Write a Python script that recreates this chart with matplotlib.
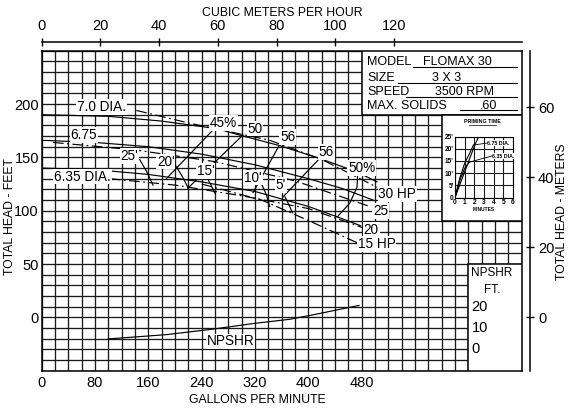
import numpy as np
import matplotlib.pyplot as plt
from matplotlib.patches import Rectangle

plt.rcParams['font.family'] = ['Liberation Sans', 'DejaVu Sans']

# head-capacity curves, gallons per minute vs feet
dia_names = ["7.0 DIA.", "6.75", "6.35 DIA."]
dia_gpm = [
    [0, 100, 180, 262, 302, 357, 417, 474, 503],
    [0, 80, 160, 240, 320, 400, 450, 497],
    [0, 80, 160, 240, 320, 400, 440, 478],
]
dia_head = [
    [190, 188.5, 184, 177, 170, 161, 149, 136, 127],
    [166, 164, 160, 153, 143, 130, 121, 110],
    [140, 138.5, 134, 127, 118, 104, 95, 86],
]

# horsepower lines (dash-dot)
hp_names = ["30 HP", "25", "20", "15 HP"]
hp_gpm = [
    [142, 222, 342, 420, 503],
    [17, 140, 260, 380, 492],
    [102, 200, 300, 400, 482],
    [240, 330, 403, 473],
]
hp_head = [
    [194, 182, 166, 148, 122],
    [164, 157, 146, 128, 104],
    [130, 124, 114, 102, 84],
    [125, 110, 90, 70],
]

# efficiency lines
eff_names = ["45%", "50", "56", "56", "50%"]
eff_gpm = [
    [187, 262],
    [219, 302],
    [317, 357],
    [362, 417],
    [474, 473, 462, 443],
]
eff_head = [
    [130, 179],
    [121, 171],
    [117, 162],
    [113, 149],
    [136, 122, 107, 94],
]

# suction lift lines
lift_names = ["25'", "20'", "15'", "10'", "5'"]
lift_gpm = [
    [147, 158, 167],
    [200, 211, 220],
    [248, 254, 260],
    [327, 337, 342],
    [365, 372, 376],
]
lift_head = [
    [148, 136, 124],
    [143, 132, 121],
    [131, 124, 116],
    [129, 115, 104],
    [113, 104, 98],
]

# NPSHR curve (ft of NPSHR)
npshr_gpm = [100, 187, 257, 317, 372, 407, 476]
npshr_ft = [4.9, 6.9, 9.5, 12.1, 14.1, 16.2, 20.6]

# priming time inset, minutes vs lift ft
prime_names = ["", "6.75 DIA.", "6.35 DIA."]
prime_min = [
    [0, 1, 2, 2.45],
    [0, 0.5, 1, 1.5, 1.9],
    [0, 0.5, 1, 1.5],
]
prime_lift = [
    [0, 10.5, 21, 25],
    [0, 8, 14, 18, 21.5],
    [0, 7, 12, 14.5],
]

bottom_ticks = [0, 80, 160, 240, 320, 400, 480]
left_ticks = [0, 50, 100, 150, 200]
top_ticks = [0, 20, 40, 60, 80, 100, 120]
right_ticks = [0, 20, 40, 60]

GPM_PER_M3H = 4.403
FT_PER_M = 3.281


def main():
    W, H = 571, 413
    fig = plt.figure(figsize=(W / 100, H / 100), dpi=100)
    ax = fig.add_axes([41.7 / W, 42.3 / H, 480 / W, 320 / H])
    ax.set_xlim(0, 720)
    ax.set_ylim(-50, 250)

    ax.set_xticks(bottom_ticks)
    ax.set_xticks(np.arange(0, 721, 20), minor=True)
    ax.set_yticks(left_ticks)
    ax.set_yticks(np.arange(-50, 251, 10), minor=True)
    ax.tick_params(which='both', length=0)
    ax.tick_params(axis='x', pad=4, labelsize=10.5)
    ax.tick_params(axis='y', pad=2, labelsize=10.5)
    ax.set_axisbelow(True)
    ax.grid(which='both', color='#1a1a1a', lw=0.95)
    for s in ax.spines.values():
        s.set_linewidth(1.1)

    fs = 9
    lab = dict(fontsize=9.8, zorder=6,
               bbox=dict(facecolor='white', edgecolor='none', pad=0.6))
    lw = 0.85

    for g, h in zip(dia_gpm, dia_head):
        ax.plot(g, h, color='black', lw=lw, zorder=3)
    ax.text(90, 197.5, dia_names[0], ha='center', va='center', **lab)
    ax.text(63, 171, dia_names[1], ha='center', va='center', **lab)
    ax.text(61, 132, dia_names[2], ha='center', va='center', **lab)

    for g, h in zip(hp_gpm, hp_head):
        ax.plot(g, h, color='black', lw=lw, ls=(0, (9, 3, 1.5, 3)), zorder=3)
    hp_pos = [(505, 115.6), (497, 100), (483, 82), (474, 69)]
    for name, (x, y) in zip(hp_names, hp_pos):
        ax.text(x, y, name, ha='left', va='center', **lab)

    for g, h in zip(eff_gpm, eff_head):
        ax.plot(g, h, color='black', lw=lw, zorder=3)
    eff_pos = [(273, 182), (320, 177), (369, 169), (427, 155), (480, 140)]
    for name, (x, y) in zip(eff_names, eff_pos):
        ax.text(x, y, name, ha='center', va='center', **lab)

    for g, h in zip(lift_gpm, lift_head):
        ax.plot(g, h, color='black', lw=lw, zorder=3)
    lift_pos = [(132, 151), (186, 146), (246, 137), (317, 131), (359, 124)]
    for name, (x, y) in zip(lift_names, lift_pos):
        ax.text(x, y, name, ha='center', va='center', **lab)

    # boxes on the right of the grid
    box = dict(facecolor='white', edgecolor='black', lw=1.1, zorder=4)
    ax.add_patch(Rectangle((480, 190), 240, 60, **box))
    ax.add_patch(Rectangle((600, 90), 120, 100, **box))
    ax.add_patch(Rectangle((640, -50), 80, 100, **box))

    info = [("MODEL", 239.4, "FLOMAX 30", 572, 235, 557),
            ("SIZE", 224.4, "3 X 3", 585, 220, 535),
            ("SPEED", 211.3, "3500 RPM", 590, 207, 547),
            ("MAX. SOLIDS", 198.2, ".60", 657, 194.4, 628)]
    for key, y, val, xv, yl, xl in info:
        ax.text(488, y, key, fontsize=fs, va='center', zorder=6)
        ax.text(xv, y, val, fontsize=fs, va='center', zorder=6)
        ax.plot([xl, 713], [yl, yl], color='black', lw=0.8, zorder=6)

    # NPSHR on its own scale
    axn = ax.twinx()
    axn.set_ylim(-10, 140)
    axn.axis('off')
    axn.plot(npshr_gpm, npshr_ft, color='black', lw=lw, zorder=3)
    axn.text(283, 3.7, "NPSHR", ha='center', va='center', **lab)
    for v in [20, 10, 0]:
        axn.text(645, v, str(v), ha='left', va='center', fontsize=10.5, zorder=6)
    axn.text(675, 35.8, "NPSHR", ha='center', va='center', fontsize=8.5)
    axn.text(675, 27.8, "FT.", ha='center', va='center', fontsize=8.5)

    # top and right secondary scales
    top = ax.secondary_xaxis(1 + 9 / 320, functions=(lambda g: g / GPM_PER_M3H,
                                                     lambda m: m * GPM_PER_M3H))
    top.set_xticks(top_ticks)
    top.tick_params(direction='inout', length=6, width=1, pad=3, labelsize=10.5)
    top.spines['top'].set_linewidth(1.1)

    right = ax.secondary_yaxis(1 + 8 / 480, functions=(lambda f: f / FT_PER_M,
                                                       lambda m: m * FT_PER_M))
    right.set_yticks(right_ticks)
    right.tick_params(direction='inout', length=6, width=1, pad=3, labelsize=10.5)
    right.spines['right'].set_linewidth(1.1)

    tf = 8.8
    fig.text(257 / W, 1 - 400 / H, "GALLONS PER MINUTE", ha='center', va='center', fontsize=tf)
    fig.text(282 / W, 1 - 13 / H, "CUBIC METERS PER HOUR", ha='center', va='center', fontsize=tf)
    fig.text(10.5 / W, 1 - 217 / H, "TOTAL HEAD - FEET", ha='center', va='center',
             rotation=90, fontsize=tf)
    fig.text(562 / W, 1 - 212 / H, "TOTAL HEAD - METERS", ha='center', va='center',
             rotation=90, fontsize=tf)
    fig.text(517 / W, 1 - 5 / H, "FLO", ha='left', va='bottom', fontsize=26,
             fontweight='bold')

    # priming time inset
    axp = fig.add_axes([455 / W, 1 - 197.5 / H, 58 / W, 61 / H])
    axp.set_xlim(0, 6)
    axp.set_ylim(0, 25)
    axp.set_xticks(range(0, 7))
    axp.set_yticks([0, 5, 10, 15, 20, 25])
    axp.set_yticklabels(["0", "5'", "10'", "15'", "20'", "25'"])
    axp.tick_params(length=0, labelsize=4.8, pad=1)
    for t in axp.get_xticklabels() + axp.get_yticklabels():
        t.set_fontweight('bold')
    axp.grid(color='#1a1a1a', lw=0.8)
    axp.set_axisbelow(True)
    for s in axp.spines.values():
        s.set_linewidth(0.8)
    axp.set_xlabel("MINUTES", fontsize=3.5, fontweight='bold', labelpad=0.5)
    for m, l in zip(prime_min, prime_lift):
        axp.plot(m, l, color='black', lw=0.8)
    axp.plot([1.9, 3.3], [21.5, 22.3], color='black', lw=0.6)
    axp.plot([1.5, 3.8], [14.5, 17], color='black', lw=0.6)
    pl = dict(fontsize=3.8, fontweight='bold', va='center',
              bbox=dict(facecolor='white', edgecolor='none', pad=0.2))
    axp.text(3.35, 22.3, prime_names[1], **pl)
    axp.text(3.85, 17, prime_names[2], **pl)
    fig.text(482.5 / W, 1 - 121.5 / H, "PRIMING TIME", ha='center', va='center',
             fontsize=3.8, fontweight='bold')
    fig.add_artist(plt.Line2D([469 / W, 496 / W], [1 - 125 / H] * 2, color='black', lw=0.5))

    fig.savefig('out.png', dpi=100)


if __name__ == '__main__':
    main()
